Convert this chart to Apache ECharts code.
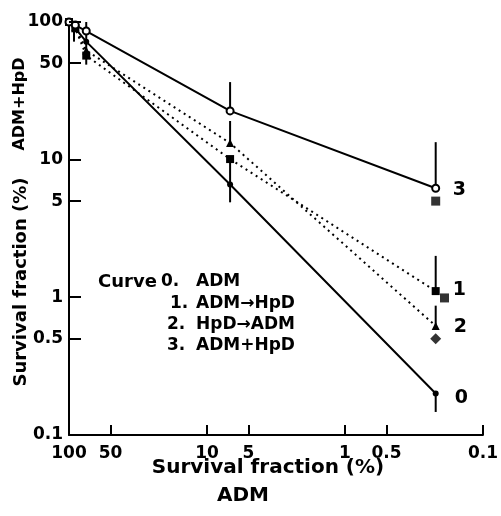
<!DOCTYPE html>
<html>
<head>
<meta charset="utf-8">
<script src="https://cdn.jsdelivr.net/npm/echarts@6.0.0/dist/echarts.min.js"></script>
<style>
  html, body { margin: 0; padding: 0; background: #fff; }
  #chart { width: 501px; height: 516px; }
</style>
</head>
<body>
<div id="chart"></div>
<script>
// survival fraction (%) of ADM alone (x) vs combined treatment (y)
const xVals = [100, 90, 75, 6.8, 0.22];
const curve0 = [100, 90, 72, 6.6, 0.2];     // ADM
const curve1 = [100, 90, 57, 10.1, 1.11];   // ADM→HpD
const curve2 = [100, 92, 62, 13.2, 0.62];   // HpD→ADM
const curve3 = [100, 95, 86, 22.6, 6.2];    // ADM+HpD
const curveNames = ['0', '1', '2', '3'];
// stray markers next to the last column
const extraSquares = [[0.22, 5.0], [0.19, 0.99]];
const extraDiamonds = [[0.22, 0.5]];
// error bars: [x, low, high]
const errorBars = [
  [92, 72, 100], [75, 49, 100],
  [6.8, 22.6, 36.6], [6.8, 13.2, 19.1], [6.8, 4.9, 10],
  [0.22, 6.2, 13.4], [0.22, 1.11, 2.0], [0.22, 0.62, 0.87], [0.22, 0.147, 0.2]
];
const tickVals = [100, 50, 10, 5, 1, 0.5, 0.1];
const tickLabels = ['100', '50', '10', '5', '1', '0.5', '0.1'];

const FONT = 'DejaVu Sans';

function tickText(v) {
  // nearest tick in log space
  let best = 0, d = 1e9;
  tickVals.forEach((t, i) => {
    const dd = Math.abs(Math.log10(v) - Math.log10(t));
    if (dd < d) { d = dd; best = i; }
  });
  return tickLabels[best];
}

function pairs(ys) {
  return xVals.map((x, i) => [x, ys[i]]);
}

function makeAxis(extra, labelMargin, showTick) {
  return Object.assign({
    type: 'log',
    logBase: 10,
    min: 0.1,
    max: 100,
    splitLine: { show: false },
    minorTick: { show: false },
    axisLine: { show: true, lineStyle: { color: '#000', width: 2 } },
    axisTick: {
      show: showTick, inside: true, length: 10,
      customValues: tickVals.slice(),
      lineStyle: { color: '#000', width: 2 }
    },
    axisLabel: {
      customValues: tickVals.slice(),
      formatter: tickText,
      margin: labelMargin,
      color: '#000',
      fontFamily: FONT,
      fontWeight: 'bold',
      fontSize: 17
    }
  }, extra);
}

function txt(x, y, s, size, extra) {
  return Object.assign({
    type: 'text', x: x, y: y,
    style: { text: s, fill: '#000', font: 'bold ' + size + 'px "DejaVu Sans"', verticalAlign: 'middle' }
  }, extra || {});
}

const chart = echarts.init(document.getElementById('chart'));

const lineBase = { type: 'line', clip: false, itemStyle: { color: '#000' } };

option = {
  backgroundColor: '#fff',
  animation: false,
  grid: { left: 69, right: 8, top: 22, bottom: 81 },
  xAxis: makeAxis({ inverse: true }, 10, true),
  yAxis: makeAxis({}, 6, false),
  series: [
    Object.assign({}, lineBase, {
      name: 'ADM', data: pairs(curve0),
      symbol: 'circle', symbolSize: 6,
      lineStyle: { color: '#000', width: 2 }
    }),
    Object.assign({}, lineBase, {
      name: 'ADM→HpD', data: pairs(curve1),
      symbol: 'rect', symbolSize: 8,
      lineStyle: { color: '#000', width: 2, type: [2, 4] }
    }),
    Object.assign({}, lineBase, {
      name: 'HpD→ADM', data: pairs(curve2),
      symbol: 'triangle', symbolSize: 8,
      lineStyle: { color: '#000', width: 2, type: [2, 4] }
    }),
    Object.assign({}, lineBase, {
      name: 'ADM+HpD', data: pairs(curve3),
      symbol: 'emptyCircle', symbolSize: 7,
      itemStyle: { color: '#000', borderColor: '#000', borderWidth: 2 },
      lineStyle: { color: '#000', width: 2 }
    }),
    {
      type: 'scatter', data: extraSquares, clip: false,
      symbol: 'rect', symbolSize: 9, itemStyle: { color: '#000' }
    },
    {
      type: 'scatter', data: extraDiamonds, clip: false,
      symbol: 'diamond', symbolSize: 11, itemStyle: { color: '#000' }
    },
    {
      type: 'custom', data: errorBars, clip: false,
      renderItem: function (params, api) {
        const lo = api.coord([api.value(0), api.value(1)]);
        const hi = api.coord([api.value(0), api.value(2)]);
        return {
          type: 'line',
          shape: { x1: lo[0], y1: lo[1], x2: hi[0], y2: hi[1] },
          style: { stroke: '#000', lineWidth: 2 }
        };
      }
    },
    {
      // y axis ticks, pointing into the plot
      type: 'custom', clip: false, silent: true, z: 10,
      data: tickVals.map(v => [100, v]),
      renderItem: function (params, api) {
        const p = api.coord([api.value(0), api.value(1)]);
        const y = Math.round(p[1]);
        return {
          type: 'rect',
          shape: { x: p[0], y: y - 1, width: 12, height: 2 },
          style: { fill: '#000' }
        };
      }
    }
  ],
  graphic: [
    // x axis title
    txt(268, 468, '', 20, { style: { text: 'Survival fraction (%)', fill: '#000', font: 'bold 20px "DejaVu Sans"', textAlign: 'center', verticalAlign: 'middle' } }),
    txt(243, 496, '', 20, { style: { text: 'ADM', fill: '#000', font: 'bold 20px "DejaVu Sans"', textAlign: 'center', verticalAlign: 'middle' } }),
    // y axis title (rotated)
    { type: 'text', x: 12, y: 282, rotation: Math.PI / 2,
      style: { text: 'Survival fraction (%)', fill: '#000', font: 'bold 18px "DejaVu Sans"', textAlign: 'center' } },
    { type: 'text', x: 12, y: 104, rotation: Math.PI / 2,
      style: { text: 'ADM+HpD', fill: '#000', font: 'bold 16px "DejaVu Sans"', textAlign: 'center' } },
    // legend block
    txt(98, 282, 'Curve', 18), txt(161, 282, '0.', 17), txt(196, 282, 'ADM', 17),
    txt(170, 304, '1.', 17), txt(196, 304, 'ADM→HpD', 17),
    txt(167, 325, '2.', 17), txt(196, 325, 'HpD→ADM', 17),
    txt(167, 346, '3.', 17), txt(196, 346, 'ADM+HpD', 17)
  ]
};

chart.setOption(option);

// curve numbers beside the last point of each curve
const curves = [curve0, curve1, curve2, curve3];
const lblOffsets = [[19, 5], [17, -1], [18, 1], [17, 2]];
const endLabels = curves.map((c, i) => {
  const last = c.length - 1;
  const p = chart.convertToPixel({ gridIndex: 0 }, [xVals[last], c[last]]);
  return txt(p[0] + lblOffsets[i][0], p[1] + lblOffsets[i][1], curveNames[i], 19);
});
chart.setOption({ graphic: option.graphic.concat(endLabels) });
</script>
</body>
</html>
